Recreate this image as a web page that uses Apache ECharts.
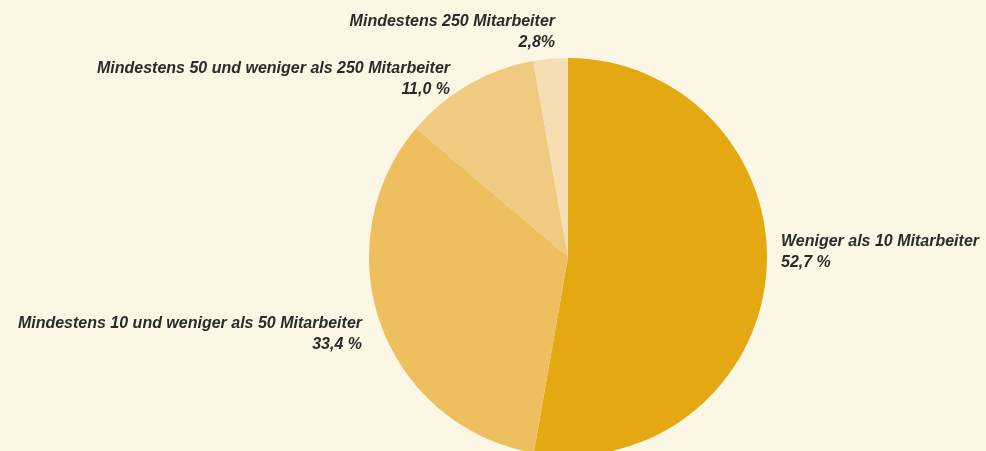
<!DOCTYPE html>
<html>
<head>
<meta charset="utf-8">
<script src="https://cdn.jsdelivr.net/npm/echarts@6/dist/echarts.min.js"></script>
<style>
  html, body { margin: 0; padding: 0; background: #fcf6e4; }
  #chart { width: 986px; height: 451px; }
</style>
</head>
<body>
<div id="chart"></div>
<script>
// Unternehmen nach Größenklassen
const categories = [
  'Weniger als 10 Mitarbeiter',
  'Mindestens 10 und weniger als 50 Mitarbeiter',
  'Mindestens 50 und weniger als 250 Mitarbeiter',
  'Mindestens 250 Mitarbeiter'
];
const shares = [52.7, 33.4, 11.0, 2.8];
const shareLabels = ['52,7 %', '33,4 %', '11,0 %', '2,8%'];
const colors = ['#e3a812', '#eebf5f', '#f0ca81', '#f5deb1'];

// label anchor spots (x, y, align)
const labelSpots = [
  [781, 252, 'left'],
  [362, 334, 'right'],
  [450, 79, 'right'],
  [555, 32, 'right']
];

const chart = echarts.init(document.getElementById('chart'));

chart.setOption({
  backgroundColor: '#fcf6e4',
  animation: false,
  series: [{
    type: 'pie',
    center: [568, 257],
    radius: 199,
    startAngle: 90,
    clockwise: true,
    data: categories.map((name, i) => ({
      name: name,
      value: shares[i],
      itemStyle: { color: colors[i] }
    })),
    label: {
      show: true,
      position: 'outside',
      formatter: p => p.name + '\n' + shareLabels[p.dataIndex],
      fontFamily: 'Liberation Sans',
      fontStyle: 'italic',
      fontWeight: 'bold',
      fontSize: 16,
      lineHeight: 21,
      color: '#2b2b2b',
      overflow: 'none'
    },
    labelLine: { show: false },
    labelLayout: p => ({
      x: labelSpots[p.dataIndex][0],
      y: labelSpots[p.dataIndex][1],
      align: labelSpots[p.dataIndex][2],
      verticalAlign: 'middle'
    }),
    emphasis: { disabled: true }
  }]
});
</script>
</body>
</html>
